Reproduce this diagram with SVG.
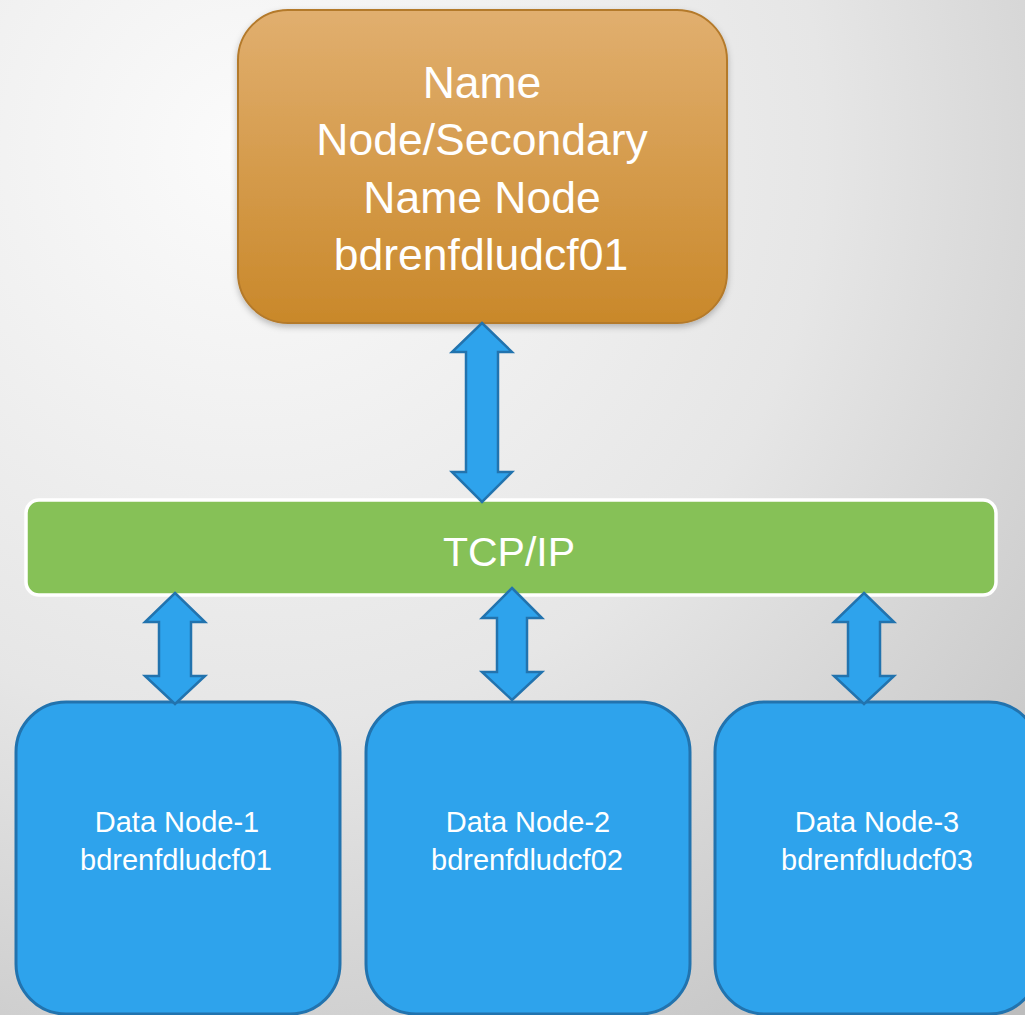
<svg xmlns="http://www.w3.org/2000/svg" width="1025" height="1015" viewBox="0 0 1025 1015">
  <defs>
    <radialGradient id="bg" cx="250" cy="150" r="1150" gradientUnits="userSpaceOnUse">
      <stop offset="0" stop-color="#FBFBFB"/>
      <stop offset="0.5" stop-color="#E6E6E6"/>
      <stop offset="1" stop-color="#BDBDBD"/>
    </radialGradient>
    <linearGradient id="orange" x1="0" y1="0" x2="0" y2="1">
      <stop offset="0" stop-color="#E1AF6F"/>
      <stop offset="1" stop-color="#C9882A"/>
    </linearGradient>
    <filter id="shadow" x="-10%" y="-10%" width="120%" height="130%">
      <feDropShadow dx="0" dy="3" stdDeviation="3" flood-color="#000" flood-opacity="0.25"/>
    </filter>
  </defs>
  <style>
    .txt { font-family: "Liberation Sans", Arial, sans-serif; fill: #FFFFFF; text-anchor: middle; }
    .data { fill: #2EA3EC; stroke: #2273AE; stroke-width: 3; }
    .arrow { fill: #2EA3EC; stroke: #2273AE; stroke-width: 2.5; stroke-linejoin: miter; }
  </style>
  <rect x="0" y="0" width="1025" height="1015" fill="url(#bg)"/>

  <g id="name-node">
    <rect x="238" y="10" width="489" height="313" rx="50" ry="50" fill="url(#orange)" stroke="#B47A2C" stroke-width="2" filter="url(#shadow)"/>
    <text class="txt" font-size="44.5" x="482" y="98">Name</text>
    <text class="txt" font-size="44.5" x="482" y="155">Node/Secondary</text>
    <text class="txt" font-size="44.5" x="482" y="213">Name Node</text>
    <text class="txt" font-size="44.5" x="481" y="270">bdrenfdludcf01</text>
  </g>

  <g id="tcp-ip">
    <rect x="26" y="500" width="970" height="95" rx="13" ry="13" fill="#86C157" stroke="#FFFFFF" stroke-width="3.5"/>
    <text class="txt" font-size="41" x="509" y="566">TCP/IP</text>
  </g>

  <g id="data-node-1">
    <rect class="data" x="16" y="702" width="324" height="312" rx="50" ry="50"/>
    <text class="txt" font-size="29" x="177" y="832">Data Node-1</text>
    <text class="txt" font-size="29" x="176" y="870">bdrenfdludcf01</text>
  </g>
  <g id="data-node-2">
    <rect class="data" x="366" y="702" width="324" height="312" rx="50" ry="50"/>
    <text class="txt" font-size="29" x="528" y="832">Data Node-2</text>
    <text class="txt" font-size="29" x="527" y="870">bdrenfdludcf02</text>
  </g>
  <g id="data-node-3">
    <rect class="data" x="715" y="702" width="324" height="312" rx="50" ry="50"/>
    <text class="txt" font-size="29" x="877" y="832">Data Node-3</text>
    <text class="txt" font-size="29" x="877" y="870">bdrenfdludcf03</text>
  </g>

  <g id="connectors">
    <!-- Name node <-> TCP/IP -->
    <polygon class="arrow" points="482,323 512,352 498,352 498,472 512,472 482,502 452,472 466,472 466,352 452,352"/>
    <!-- TCP/IP <-> Data Node-1 -->
    <polygon class="arrow" points="175,593 205,622 191,622 191,676 205,676 175,704 145,676 159,676 159,622 145,622"/>
    <!-- TCP/IP <-> Data Node-2 -->
    <polygon class="arrow" points="512,588 542,618 527,618 527,672 542,672 512,700 482,672 497,672 497,618 482,618"/>
    <!-- TCP/IP <-> Data Node-3 -->
    <polygon class="arrow" points="864,593 894,622 880,622 880,676 894,676 864,704 834,676 848,676 848,622 834,622"/>
  </g>
</svg>
